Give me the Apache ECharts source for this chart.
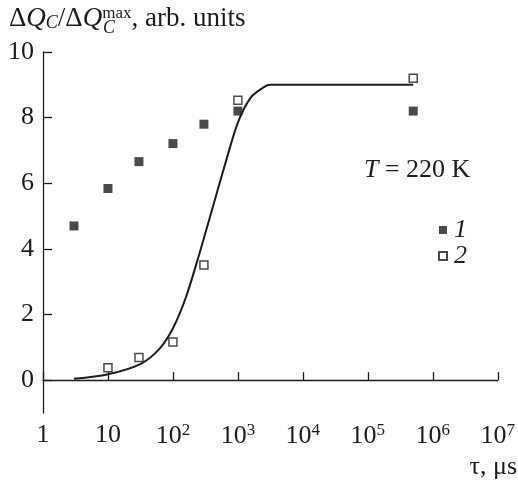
<!DOCTYPE html>
<html>
<head>
<meta charset="utf-8">
<script src="https://cdn.jsdelivr.net/npm/echarts@6/dist/echarts.min.js"></script>
<style>
html,body{margin:0;padding:0;background:#fff;}
#c{width:518px;height:481px;}
</style>
</head>
<body>
<div id="c"></div>
<script>
// Data
var tau1 = [3, 10, 30, 100, 300, 1000, 5e5];
var q1 = [4.7, 5.84, 6.66, 7.21, 7.8, 8.2, 8.2];
var tau2 = [10, 30, 100, 300, 1000, 5e5];
var q2 = [0.38, 0.69, 1.16, 3.51, 8.53, 9.2];
var curveTau = [3, 10, 32, 63, 100, 158, 251, 398, 631, 1000, 1585, 2512, 3162, 10000, 5e5];
var curveQ = [0.04, 0.18, 0.5, 0.97, 1.58, 2.52, 3.8, 5.18, 6.56, 7.85, 8.62, 8.93, 9.0, 9.0, 9.0];
var yTicks = [0, 2, 4, 6, 8, 10];
var seriesNames = ['1', '2'];

var INK = '#1f1b1c';
var FONT = '"Liberation Serif", "Times New Roman", serif';
var FS = 26;
var TFS = 27;

function pairs(xs, ys) { return xs.map(function (x, i) { return [x, ys[i]]; }); }

var chart = echarts.init(document.getElementById('c'));
chart.setOption({
  animation: false,
  backgroundColor: '#fff',
  grid: { left: 43, right: 19, top: 52, bottom: 68 },
  xAxis: {
    type: 'log', logBase: 10, min: 1, max: 1e7,
    axisLine: { lineStyle: { color: INK, width: 1.3 } },
    axisTick: { inside: true, length: 8, lineStyle: { color: INK, width: 1.3 } },
    minorTick: { show: false },
    splitLine: { show: false },
    axisLabel: {
      margin: 9, color: INK, fontFamily: FONT, fontSize: FS,
      formatter: function (v) {
        var e = Math.round(Math.log10(v));
        if (e === 0) return '1';
        if (e === 1) return '10';
        return '10{sup|' + e + '}';
      },
      rich: {
        sup: { fontSize: 17, fontFamily: FONT, color: INK, verticalAlign: 'top', padding: [0, 0, 11, 0] }
      }
    }
  },
  yAxis: {
    type: 'value', min: -1, max: 10,
    axisLine: { show: true, lineStyle: { color: INK, width: 1.3 } },
    axisTick: { show: true, inside: true, length: 9, customValues: yTicks, lineStyle: { color: INK, width: 1.3 } },
    splitLine: { show: false },
    axisLabel: { margin: 9, color: INK, fontFamily: FONT, fontSize: FS, customValues: yTicks }
  },
  legend: {
    data: seriesNames,
    orient: 'vertical',
    left: 433, top: 212,
    icon: 'rect',
    itemWidth: 8, itemHeight: 8, itemGap: 0,
    textStyle: { fontFamily: FONT, fontSize: FS, fontStyle: 'italic', color: INK, lineHeight: 20, padding: [0, 0, 0, 2] }
  },
  series: [
    {
      name: 'fit', type: 'line', data: pairs(curveTau, curveQ), smooth: 0.3,
      showSymbol: false, lineStyle: { color: INK, width: 2 }, z: 1
    },
    {
      name: seriesNames[0], type: 'scatter', data: pairs(tau1, q1), symbol: 'rect', symbolSize: 9,
      itemStyle: { color: INK }, z: 3
    },
    {
      name: seriesNames[1], type: 'scatter', data: pairs(tau2, q2), symbol: 'rect', symbolSize: 8,
      itemStyle: { color: '#fff', borderColor: INK, borderWidth: 1.5 }, z: 3
    }
  ],
  graphic: [
    {
      type: 'text', left: 9, top: 5,
      style: {
        text: 'Δ{i|Q}{sub|C}/Δ{i|Q}{sup|max}, arb. units',
        fontFamily: FONT, fontSize: TFS, fill: INK,
        rich: {
          i: { fontFamily: FONT, fontSize: TFS, fontStyle: 'italic', fill: INK },
          sub: { fontFamily: FONT, fontSize: 18, fontStyle: 'italic', fill: INK, verticalAlign: 'bottom', padding: [8, 0, 0, 0] },
          sup: { fontFamily: FONT, fontSize: 17, fill: INK, verticalAlign: 'top', padding: [0, 0, 10, 0] }
        }
      }
    },
    {
      type: 'text', left: 103, top: 19,
      style: { text: 'C', fontFamily: FONT, fontSize: 18, fontStyle: 'italic', fill: INK }
    },
    {
      type: 'text', left: 364, top: 157,
      style: {
        text: '{i|T} = 220 K', fontFamily: FONT, fontSize: FS, fill: INK,
        rich: { i: { fontFamily: FONT, fontSize: FS, fontStyle: 'italic', fill: INK } }
      }
    },
    {
      type: 'text', right: 1, top: 454,
      style: { text: 'τ, μs', fontFamily: FONT, fontSize: FS, fill: INK }
    }
  ]
});
</script>
</body>
</html>
